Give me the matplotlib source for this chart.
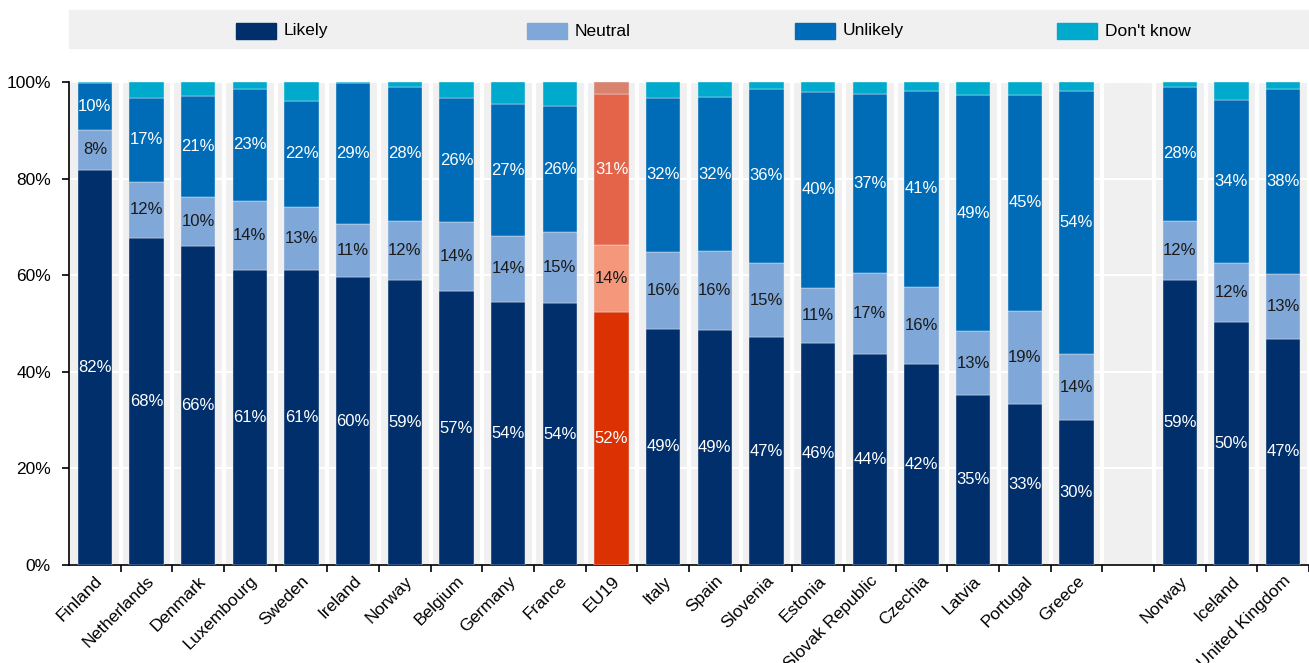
import numpy as np
import matplotlib.pyplot as plt
from matplotlib.patches import Rectangle

plt.rcParams['font.family'] = ['Liberation Sans', 'DejaVu Sans']

# === DATOS ===
paises = ["Finland", "Netherlands", "Denmark", "Luxembourg", "Sweden", "Ireland",
          "Norway", "Belgium", "Germany", "France", "EU19", "Italy", "Spain",
          "Slovenia", "Estonia", "Slovak Republic", "Czechia", "Latvia",
          "Portugal", "Greece", "", "Norway", "Iceland", "United Kingdom"]

likely   = [81.8, 67.7, 66.0, 61.1, 61.1, 59.6, 59.0, 56.7, 54.5, 54.2, 52.4, 48.9,
            48.7, 47.2, 46.0, 43.7, 41.6, 35.2, 33.3, 30.0, 0, 59.0, 50.3, 46.8]
neutral  = [8.3, 11.6, 10.2, 14.3, 13.0, 11.0, 12.2, 14.3, 13.6, 14.7, 13.9, 15.9,
            16.4, 15.3, 11.4, 16.8, 16.0, 13.2, 19.3, 13.7, 0, 12.2, 12.2, 13.4]
unlikely = [9.7, 17.4, 20.9, 23.2, 22.0, 29.2, 27.8, 25.7, 27.3, 26.1, 31.2, 31.9,
            31.7, 36.1, 40.5, 37.0, 40.6, 48.9, 44.7, 54.4, 0, 27.8, 33.8, 38.4]
no_sabe  = [0.2, 3.3, 2.9, 1.4, 3.9, 0.2, 1.0, 3.3, 4.6, 5.0, 2.5, 3.3,
            3.2, 1.4, 2.1, 2.5, 1.8, 2.7, 2.7, 1.9, 0, 1.0, 3.7, 1.4]

series = ["Likely", "Neutral", "Unlikely", "Don't know"]
colores = ["#002f6c", "#7fa8d9", "#006bb6", "#00aacc"]
colores_eu = ["#dc3203", "#f4977a", "#e4644a", "#d9836f"]
color_txt = ["white", "#1a1a1a", "white", None]

# === GRÁFICO ===
fig = plt.figure(figsize=(13.09, 6.63), dpi=100)
ax = fig.add_axes([69/1309, 1 - 565/663, 1 - 69/1309, 483/663])
ax.set_facecolor("#f0f0f0")

x = np.arange(len(paises))
con_barra = np.array([p != "" for p in paises])
datos = [likely, neutral, unlikely, no_sabe]
base = np.zeros(len(paises))
for k, vals in enumerate(datos):
    vals = np.array(vals, dtype=float)
    cols = [colores_eu[k] if p == "EU19" else colores[k] for p in paises]
    ax.bar(x[con_barra], vals[con_barra], 0.66, bottom=base[con_barra],
           color=[c for c, m in zip(cols, con_barra) if m],
           edgecolor="#e8eef5", linewidth=0.3, zorder=3)
    if color_txt[k]:
        for i, v in enumerate(vals):
            if v > 0:
                ax.text(x[i], base[i] + v / 2, f"{v:.0f}%", ha="center",
                        va="center", color=color_txt[k], fontsize=12, zorder=4)
    base += vals

ax.set_xlim(-0.5, len(paises) - 0.5)
ax.set_ylim(0, 100)
ax.set_yticks(np.arange(0, 101, 20))
ax.set_yticklabels([f"{v}%" for v in range(0, 101, 20)], fontsize=12.5)
ax.set_xticks(x)
ax.set_xticklabels(paises, rotation=45, ha="right", rotation_mode="anchor", fontsize=12.5)
ax.tick_params(axis="x", length=0, pad=6)
ax.set_xticks(np.arange(-0.5, len(paises) - 0.5) + 1, minor=True)
ax.tick_params(axis="x", which="minor", length=5, direction="out", width=1.2)
ax.tick_params(axis="y", length=5, width=1.2, direction="out", pad=8)
ax.grid(axis="y", color="white", linewidth=1.5, zorder=1)
ax.grid(axis="x", which="minor", color="white", linewidth=3, zorder=1)
ax.set_axisbelow(True)
for s in ["top", "right"]:
    ax.spines[s].set_visible(False)
ax.spines["left"].set_linewidth(1.2)
ax.spines["bottom"].set_linewidth(1.2)

# === LEYENDA ===
fig.patches.append(Rectangle((69/1309, 1 - 48/663), 1 - 69/1309, 38/663,
                             transform=fig.transFigure, color="#f0f0f0", zorder=0))
leg_x = [236, 527, 795, 1057]
for nombre, col, lx in zip(series, colores, leg_x):
    fig.patches.append(Rectangle((lx/1309, 1 - 39/663), 40/1309, 16/663,
                                 transform=fig.transFigure, color=col))
    fig.text((lx + 48)/1309, 1 - 31/663, nombre, va="center", ha="left", fontsize=12.5)

plt.savefig("out.png", dpi=100)
